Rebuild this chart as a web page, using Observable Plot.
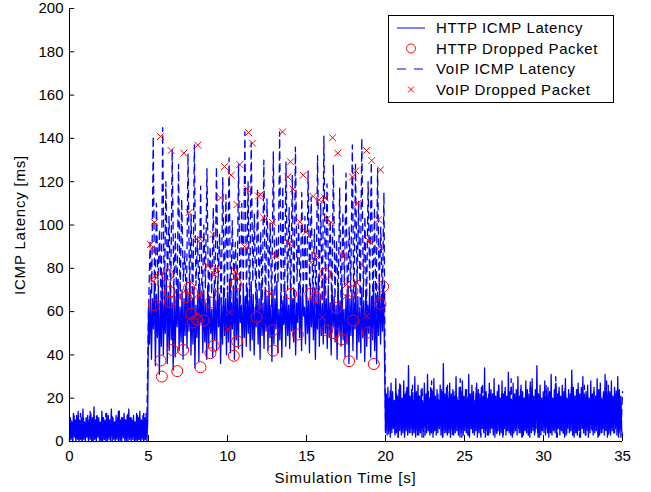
<!DOCTYPE html>
<html>
<head>
<meta charset="utf-8">
<script src="https://cdn.jsdelivr.net/npm/d3@7"></script>
<script src="https://cdn.jsdelivr.net/npm/@observablehq/plot@0.6"></script>
<style>
  html, body { margin: 0; padding: 0; background: #fff; }
  #chart svg { display: block; }
</style>
</head>
<body>
<div id="chart"></div>
<script>
// ---- tick labels ----
const xTicks = [0, 5, 10, 15, 20, 25, 30, 35];
const yTicks = [0, 20, 40, 60, 80, 100, 120, 140, 160, 180, 200];

// ---- HTTP ICMP latency (ms), evenly sampled ----
// 0 - 5 s
const httpA = [0,11,1,9,0,13,2,10,0,12,1,14,0,10,1,11,0,15,1,9,
0,11,2,12,0,10,1,13,0,11,0,16,1,10,0,12,2,11,0,9,
1,14,0,11,1,10,0,13,0,12,1,10,2,15,0,11,1,9,0,12,
1,11,0,14,1,10,0,11,2,13,0,10,1,12,0,15,1,11,0,10,
2,12,0,9,1,13,0,11,1,14,0,10,1,12,0,11,1,13,0,10];
// 5 - 20 s
const httpB = [62,45,70,38,66,52,74,35,68,48,72,31,65,44,77,40,63,50,79,36,
69,42,73,47,64,33,71,39,67,53,75,42,62,46,70,38,66,49,72,43,
68,51,74,40,65,45,71,34,63,48,69,37,73,55,66,41,70,46,64,38,
72,44,67,50,61,39,70,47,65,42,74,53,68,36,63,45,71,49,66,40,
69,46,75,41,64,52,72,38,78,47,66,43,70,55,63,39,73,48,67,44,
71,50,65,42,74,47,68,40,62,53,70,45,66,38,73,49,64,43,69,51,
67,42,72,48,63,37,70,45,66,52,74,41,61,47,69,39,65,54,71,44,
68,49,63,43,72,51,66,46,70,40,64,55,73,48,67,42,71,58,62,45,
69,50,65,41,73,53,67,47,71,38,64,52,76,44,68,49,62,45,77,50,
66,43,72,48,64,40,70,53,67,46,63,38,71,50,65,44,73,47,61,39,
68,45,72,36,66,49,70,42,64,52,74,38,67,46,62,41,71,48,65,37,
70,44,63,50,72,39,67,47,74,42,65,36,69,49,73,45,68,51,72,40];
// 20 - 35 s
const httpC = [4,22,3,25,5,20,2,27,4,23,6,19,3,29,4,21,2,24,5,26,
3,20,4,28,2,22,5,25,3,35,4,21,6,24,3,19,4,30,2,23,
5,26,3,21,4,24,2,18,6,27,3,22,4,31,5,20,3,25,4,23,
2,29,5,21,3,24,4,19,6,26,3,23,2,36,4,22,5,25,3,20,
4,27,2,22,6,24,3,21,4,30,5,19,3,25,2,23,4,28,3,21,
5,24,4,20,3,31,2,22,6,26,4,23,3,19,5,27,2,24,4,22,
3,25,6,21,4,34,2,23,5,20,3,27,4,24,6,22,3,29,2,21,
4,23,5,26,3,20,4,28,2,22,6,25,3,21,5,32,4,23,3,19,
2,27,4,22,5,24,3,30,6,21,4,26,2,23,3,20,5,28,4,24,
3,22,2,25,4,29,5,21,3,24,6,35,4,22,2,26,3,20,5,23,
4,28,3,21,6,25,2,23,4,31,3,20,5,24,4,27,2,22,6,25,
3,21,5,26,4,23,2,29,3,20,6,24,4,22,5,33,3,25,2,21,
4,24,3,27,5,22,2,25,6,30,4,21,3,23,5,26,2,20,4,28,
6,22,3,25,4,21,5,29,2,24,3,27,4,20,6,23,3,31,5,22,
2,26,4,23,3,28,5,21,4,25,6,22,3,30,2,24,4,21,5,3];

// ---- VoIP ICMP latency (ms), evenly sampled ----
const voipA = [1,10,0,12,2,9,1,13,0,11,2,8,1,14,0,10,1,12,3,9,
0,11,1,13,2,10,0,12,1,9,2,14,0,11,1,10,0,13,2,11,1,9,0,12,1,10,2,13,0,11];
const voipB = [60,92,68,141,55,110,72,98,62,145,58,120,75,104,63,135,70,96,57,128,
66,112,74,88,61,133,69,105,56,137,72,94,64,118,59,100,71,126,63,90,
68,108,57,127,73,96,62,122,66,114,70,131,58,102,75,92,64,128,60,110,
71,143,63,120,56,138,74,105,61,116,69,97,65,130,58,112,72,101,62,134,
67,95,73,143,60,118,55,129,70,108,64,123,58,136,74,100,63,115,68,104,
57,125,71,113,65,98,62,132,70,110,59,141,67,119,73,102,60,128,66,93,
64,117,58,106,72,124,61,99,69,137,55,128,73,111,62,140,67,104,60,120,
71,129,63,108,58,126,70,99,65,115];
const voipC = [5,19,3,24,6,17,4,22,2,27,7,18,3,23,5,20,4,26,6,16,
3,21,5,25,2,19,6,23,4,28,3,17,5,22,7,24,2,20,4,26,
6,18,3,23,5,21,4,29,2,19,7,24,3,22,5,17,4,25,6,20,
2,27,5,19,3,23,6,21,4,18,3,26,7,22,2,24,5,20,4,29,
3,17,6,23,4,25,2,20,5,22,3,28,6,19,4,24,2,21,5,18,
7,26,3,22,4,19,5,30,2,23,6,20,3,25,4,17,5,27,3,21,
4,24,2,19,6,26,3,22,5,18,4,23,7,20,2,25,3,21,5,28,
3,22,6,17,4,24,5,20,2,23];

// ---- dropped packets ----
const httpDropT = [5.34,5.76,5.84,6.22,6.35,6.35,6.52,6.82,7.19,7.36,7.57,7.7,7.78,7.78,8.08,8.29,8.5,8.92,8.92,9.13,10.4,10.53,10.61,11.84,12.85,12.89,14.03,14.45,15.25,15.59,15.89,16.18,16.31,16.77,16.9,17.23,17.7,17.91,17.95,18.88,19.26,19.68,19.85];
const httpDropV = [63,37.4,30,77.1,69.1,64.5,42.3,32.5,42.3,66.7,71,59,68.8,55,56.2,34.3,55.9,64.2,40.8,44.2,39.6,72.8,46.3,57.4,51.3,42,68.2,49.4,68.2,66.7,68.8,77.4,51.3,50,61.7,47.2,37.1,69.4,55.9,50.3,35.8,63.6,71.6];

const voipDropT = [5.13,5.29,5.29,5.38,5.42,5.76,6.43,7.24,7.57,8.04,8.12,8.25,8.29,8.75,9.09,9.18,9.3,9.3,9.56,9.81,10.02,10.15,10.23,10.49,10.53,10.61,10.78,11.08,11.25,11.33,11.58,11.96,12.09,12.09,12.3,12.68,12.85,13.02,13.48,13.82,13.9,13.99,14.15,14.58,14.79,14.96,15.3,15.42,15.59,15.8,16.01,16.18,16.3,16.56,16.65,16.98,17.32,17.49,17.53,17.91,18.12,18.16,18.25,18.5,18.8,18.8,18.97,19.13,19.56,19.64,19.68];
const voipDropV = [91,88.2,74,101.2,76.5,140.9,134.4,133.2,105.8,93.4,136.9,67.6,93.4,81.1,95.6,77.1,79.9,69.4,112.5,127,51.9,59.6,123,78.6,76.2,109.5,127.9,90,116.6,142.7,137.8,113.4,114,62,103.3,68.2,101.2,86,143,122.2,91.6,129.2,116.6,101.5,123,96.8,82.7,113.2,85.8,111.6,57.4,112.5,102.7,101.2,140.3,133.2,86,67,72.5,122.2,125,73.4,110,81.8,134.4,58,92.5,129.8,102.4,90,125.5];

const seriesNames = ["HTTP ICMP Latency", "HTTP Dropped Packet", "VoIP ICMP Latency", "VoIP Dropped Packet"];
const xLabel = "Simulation Time [s]";
const yLabel = "ICMP Latency [ms]";

// ---- build tables ----
function segment(arr, t0, t1, closed) {
  const n = arr.length;
  const step = (t1 - t0) / (closed ? n - 1 : n);
  return arr.map((v, i) => ({t: t0 + i * step, v}));
}
const http = [...segment(httpA, 0, 5), ...segment(httpB, 5, 20), ...segment(httpC, 20, 35, true)];
const voip = [...segment(voipA, 0, 5), ...segment(voipB, 5, 20), ...segment(voipC, 20, 35, true)];
const httpDrops = httpDropT.map((t, i) => ({t, v: httpDropV[i]}));
const voipDrops = voipDropT.map((t, i) => ({t, v: voipDropV[i]}));

const blue = "#0000ff";
const red = "#ff0000";

const svg = Plot.plot({
  width: 651,
  height: 492,
  marginLeft: 69,
  marginRight: 29,
  marginTop: 8,
  marginBottom: 51,
  style: {fontFamily: "'Liberation Sans', Arial, sans-serif", fontSize: "15px", color: "#000", background: "#fff"},
  x: {domain: [0, 35]},
  y: {domain: [0, 200]},
  marks: [
    Plot.line(http, {x: "t", y: "v", stroke: blue, strokeWidth: 1.3}),
    Plot.line(voip, {x: "t", y: "v", stroke: blue, strokeWidth: 1.3, strokeDasharray: "7,5"}),
    Plot.dot(httpDrops, {x: "t", y: "v", r: 5.5, stroke: red, strokeWidth: 1, fill: "none"}),
    Plot.dot(voipDrops, {x: "t", y: "v", r: 3.2, symbol: "times", stroke: red, strokeWidth: 1}),
    Plot.ruleX(xTicks, {y1: 0, y2: 2.8, stroke: "#000"}),
    Plot.ruleY(yTicks, {x1: 0, x2: 0.33, stroke: "#000"}),
    Plot.ruleY([0], {stroke: "#000"}),
    Plot.ruleX([0], {stroke: "#000"}),
    Plot.axisX({ticks: xTicks, tickSize: 0, tickPadding: 9, tickFormat: d => String(d),
      label: null}),
    Plot.axisY({ticks: yTicks, tickSize: 0, tickPadding: 6, tickFormat: d => String(d),
      label: null})
  ]
});

const root = d3.select(svg);
// ---- axis titles ----
root.append("text").attr("x", 345.5).attr("y", 478).attr("dy", "0.35em")
  .attr("text-anchor", "middle").attr("letter-spacing", "0.8px").attr("fill", "#000").text(xLabel);
root.append("text").attr("transform", "translate(20,225) rotate(-90)").attr("dy", "0.35em")
  .attr("text-anchor", "middle").attr("letter-spacing", "0.8px").attr("fill", "#000").text(yLabel);

// ---- legend (inside the axes, top right) ----
const g = root.append("g").attr("class", "legend");
const lx = 388, ly = 15, lw = 225, lh = 87;
g.append("rect").attr("x", lx + 0.5).attr("y", ly + 0.5).attr("width", lw).attr("height", lh)
  .attr("fill", "#fff").attr("stroke", "#000").attr("stroke-width", 1);
const rows = [28, 48.5, 69, 89.5];
const sx1 = 397, sx2 = 425, sxc = 411, tx = 436;
g.append("line").attr("x1", sx1).attr("x2", sx2).attr("y1", rows[0]).attr("y2", rows[0]).attr("stroke", blue);
g.append("circle").attr("cx", sxc).attr("cy", rows[1]).attr("r", 4.5).attr("fill", "none").attr("stroke", red);
g.append("line").attr("x1", sx1).attr("x2", sx2).attr("y1", rows[2]).attr("y2", rows[2]).attr("stroke", blue).attr("stroke-dasharray", "9,8");
g.append("path").attr("d", `M${sxc-3},${rows[3]-3}L${sxc+3},${rows[3]+3}M${sxc-3},${rows[3]+3}L${sxc+3},${rows[3]-3}`).attr("stroke", red);
seriesNames.forEach((name, i) => {
  g.append("text").attr("x", tx).attr("y", rows[i]).attr("dy", "0.35em")
    .attr("text-anchor", "start").attr("letter-spacing", "0.6px").attr("fill", "#000").text(name);
});

document.getElementById("chart").appendChild(svg);
</script>
</body>
</html>
